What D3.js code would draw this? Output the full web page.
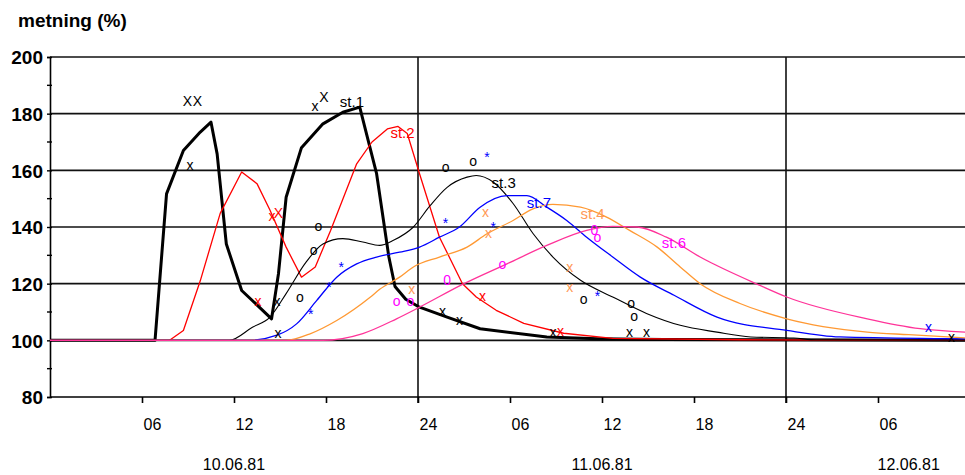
<!DOCTYPE html>
<html>
<head>
<meta charset="utf-8">
<script src="https://cdn.jsdelivr.net/npm/d3@7"></script>
<style>
  html, body { margin: 0; padding: 0; background: #fff; }
  svg { display: block; }
  text { font-family: Arial, "Liberation Sans", sans-serif; }
</style>
</head>
<body>
<svg id="chart" width="965" height="475"></svg>
<script>
// ---------- DATA ----------
const yTicks = [80, 100, 120, 140, 160, 180, 200];
const yMinorTicks = [90, 110, 130, 150, 170, 190];
const xTickHours = [6, 12, 18, 24, 30, 36, 42, 48, 54];
const xTickLabels = ["06", "12", "18", "24", "06", "12", "18", "24", "06"];
const xGridHours = [24, 48];
const dateHours = [12, 36, 56];
const dateLabels = ["10.06.81", "11.06.81", "12.06.81"];

// series: hours since 10.06.81 00:00, saturation (%)
const st1Hours = [0, 6.85, 7.6, 8.7, 9.8, 10.5, 10.9, 11.5, 12.5, 14.45, 14.9, 15.4, 16.4, 17.8, 19.1, 20.2, 21.3, 22.1, 22.5, 23.2, 24.1, 25.9, 28.05, 32.4, 35.7, 40, 60];
const st1Values = [100, 100, 151.7, 167, 173.5, 177, 165.8, 134, 117.6, 107.6, 123.5, 150.5, 168, 176.4, 180.5, 182.3, 158.8, 129.4, 119, 114.5, 111.7, 108.2, 104.1, 101.2, 100.6, 100.3, 100];

const st2Hours = [0, 7.8, 8.7, 9.8, 11.1, 12.5, 13.5, 14.35, 15.4, 16.4, 17.3, 18.3, 20, 21, 22, 22.7, 23.3, 24.1, 25.4, 26.9, 27.8, 29.1, 30.9, 33.5, 36.7, 45, 60];
const st2Values = [100, 100, 103.5, 121, 144.8, 159.4, 155.3, 145.9, 132.9, 122.3, 125.9, 138.8, 162.3, 170, 174.6, 175.5, 173, 158.8, 136.4, 120, 115.3, 110.6, 106, 102.5, 100.7, 100.2, 100];

const st3Hours = [0, 11.7, 13.2, 14.35, 15.4, 16.7, 17.8, 19.1, 20.4, 21.5, 22.4, 23.7, 24.8, 25.9, 27.2, 27.8, 28.9, 30.2, 31.5, 32.8, 34.6, 36.7, 38.9, 41.1, 43.5, 45.7, 48.5, 50, 60];
const st3Values = [100, 100, 104.6, 108.2, 116.5, 127.6, 134, 135.9, 134.7, 133.5, 135.3, 140, 147.6, 154, 157.6, 158.2, 155.9, 148.3, 137.7, 129.4, 121.2, 115.3, 109.5, 105.3, 102.9, 101.2, 100.8, 100.2, 100];

const st7Hours = [0, 13, 14.8, 16.1, 17.4, 18.7, 20, 21.3, 22.8, 24.1, 25.4, 26.7, 28.05, 29.8, 31.1, 32.4, 33.7, 35, 36.7, 38.5, 40.7, 43.5, 48.05, 51.5, 58.3, 60];
const st7Values = [100, 100, 101.8, 105.9, 114.1, 122.3, 127, 129.4, 131.1, 132.9, 136.4, 140, 147, 151.1, 151.1, 147, 142.3, 136.4, 129.4, 122.3, 115.9, 108.2, 103.5, 101.2, 100.6, 100.5];

const st4Hours = [0, 15.4, 17, 18.7, 20.9, 21.5, 22.8, 23.7, 25.4, 27.2, 28.5, 30.2, 31.5, 32.8, 34.6, 36.3, 37.8, 39.6, 41.1, 42.4, 45, 48.05, 53.3, 56, 60];
const st4Values = [100, 100, 102.4, 107, 115.3, 118, 122.3, 125.9, 129.4, 132.9, 137.6, 142.3, 146.4, 148, 147, 143.5, 138.8, 132.9, 125.9, 120, 113, 107.6, 102.9, 102, 100.8];

const st6Hours = [0, 17.8, 20.4, 22.6, 24.1, 27, 29.8, 32.4, 35, 36.7, 38.3, 40.2, 42.4, 46.3, 48.05, 53.3, 56.75, 60];
const st6Values = [100, 100, 102.4, 107.6, 111.7, 120, 127, 133.5, 138.8, 140.2, 140, 136.4, 129.4, 119.4, 115.3, 107.6, 104.1, 102.8];

const seriesNames = ["st.1", "st.2", "st.3", "st.7", "st.4", "st.6"];
const seriesHours = [st1Hours, st2Hours, st3Hours, st7Hours, st4Hours, st6Hours];
const seriesValues = [st1Values, st2Values, st3Values, st7Values, st4Values, st6Values];
const seriesLineColors = ["#000000", "#ff0000", "#000000", "#0000ff", "#ff9933", "#ff3399"];
const seriesTextColors = ["#000000", "#ff0000", "#000000", "#0000ff", "#ff9955", "#ff00ff"];
const seriesWidths = [3, 1.3, 1.1, 1.3, 1.3, 1.3];
const seriesSmooth = [false, false, true, true, true, true];
// label anchor (hour, value at text baseline)
const labelHours = [18.9, 22.2, 28.8, 31.1, 34.6, 39.9];
const labelValues = [182.4, 171.5, 153.6, 146.6, 143.0, 132.5];

// observation markers: hour, value, glyph, series index
const markHours  = [8.97, 9.62, 9.13, 17.28, 17.87, 14.8, 14.87, 25.6, 26.7, 32.8, 37.8, 38.9, 58.8,
                    13.57, 14.48, 14.9, 28.2, 33.3,
                    28.4, 28.6, 23.6, 33.9, 33.9,
                    17.5, 17.2, 16.3, 25.8, 27.6, 34.8, 37.9, 38.1,
                    28.5, 25.8, 28.9, 35.7, 19.0, 18.2, 17.0, 57.3,
                    22.6, 23.5, 25.9, 29.5, 35.5, 35.7];
const markValues = [184.3, 184.3, 161.4, 182.5, 186, 113.4, 102.1, 109.9, 107, 102.5, 102.5, 102.5, 100.7,
                    113.4, 143.4, 144.8, 115.2, 102.8,
                    145.1, 137.7, 117.6, 125.4, 118.3,
                    139.9, 131.7, 114.8, 160.7, 162.8, 114.1, 112.7, 108.1,
                    166, 142.7, 141.3, 116.9, 127.2, 120.1, 110.6, 104.2,
                    113.4, 113.4, 121.2, 126.5, 138.8, 136];
const markGlyphs = ["X", "X", "x", "x", "X", "x", "x", "x", "x", "x", "x", "x", "x",
                    "x", "x", "X", "x", "x",
                    "x", "x", "x", "x", "x",
                    "o", "o", "o", "o", "o", "o", "o", "o",
                    "*", "*", "*", "*", "*", "*", "*", "x",
                    "o", "o", "0", "o", "0", "o"];
const markSeries = [0, 0, 0, 0, 0, 0, 0, 0, 0, 0, 0, 0, 0,
                    1, 1, 1, 1, 1,
                    4, 4, 4, 4, 4,
                    2, 2, 2, 2, 2, 2, 2, 2,
                    3, 3, 3, 3, 3, 3, 3, 3,
                    5, 5, 5, 5, 5, 5];

// ---------- DRAW ----------
const svg = d3.select("#chart");
const x = d3.scaleLinear().domain([0, 60]).range([50, 970]);
const y = d3.scaleLinear().domain([80, 200]).range([397, 57]);

// title
svg.append("text").attr("x", 18).attr("y", 27)
  .attr("font-size", 19).attr("font-weight", "bold").text("metning (%)");

// horizontal gridlines
svg.append("g").selectAll("line").data(yTicks.filter(d => d > 80)).join("line")
  .attr("x1", x(0)).attr("x2", 965).attr("y1", d => y(d)).attr("y2", d => y(d))
  .attr("stroke", "#111").attr("stroke-width", 1.6);

// vertical gridlines
svg.append("g").selectAll("line").data(xGridHours).join("line")
  .attr("x1", d => x(d)).attr("x2", d => x(d)).attr("y1", y(200)).attr("y2", y(80) + 6)
  .attr("stroke", "#111").attr("stroke-width", 1.6);

// y axis
const yAxis = d3.axisLeft(y).tickValues(yTicks).tickSize(3).tickFormat(d3.format("d"));
const gy = svg.append("g").attr("transform", `translate(${x(0)},0)`).call(yAxis);
gy.select(".domain").attr("stroke", "#000").attr("stroke-width", 1.6);
gy.selectAll(".tick line").attr("stroke", "#000").attr("stroke-width", 1.4)
  .attr("x1", 2);
gy.selectAll(".tick text").attr("font-size", 19).attr("font-weight", "bold")
  .attr("font-family", "Arial, 'Liberation Sans', sans-serif").attr("fill", "#000")
  .attr("x", -7).attr("dy", "0.36em");
// minor y ticks
svg.append("g").selectAll("line").data(yMinorTicks).join("line")
  .attr("x1", x(0) - 3).attr("x2", x(0) + 2).attr("y1", d => y(d)).attr("y2", d => y(d))
  .attr("stroke", "#000").attr("stroke-width", 1.4);

// x axis
const xAxis = d3.axisBottom(x).tickValues(xTickHours).tickSize(6).tickFormat((d, i) => xTickLabels[i]);
const gx = svg.append("g").attr("transform", `translate(0,${y(80)})`).call(xAxis);
gx.select(".domain").remove();
gx.selectAll(".tick line").attr("stroke", "#000").attr("stroke-width", 1.6);
gx.selectAll(".tick text").attr("font-size", 16)
  .attr("font-family", "Arial, 'Liberation Sans', sans-serif").attr("fill", "#000")
  .attr("dx", 10).attr("y", 33).attr("dy", 0);
svg.append("line").attr("x1", x(0)).attr("x2", 965).attr("y1", y(80)).attr("y2", y(80))
  .attr("stroke", "#000").attr("stroke-width", 1.6);

// date labels
svg.append("g").selectAll("text").data(dateHours).join("text")
  .attr("x", d => x(d)).attr("y", 470).attr("text-anchor", "middle")
  .attr("font-size", 16).text((d, i) => dateLabels[i]);

// series lines
const seriesData = seriesNames.map((name, i) => ({
  name, color: seriesLineColors[i], width: seriesWidths[i], smooth: seriesSmooth[i],
  points: seriesHours[i].map((h, j) => [h, seriesValues[i][j]])
}));
const gLines = svg.append("g");
seriesData.forEach(s => {
  const line = d3.line().x(d => x(d[0])).y(d => y(d[1]))
    .curve(s.smooth ? d3.curveMonotoneX : d3.curveLinear);
  gLines.append("path").datum(s.points).attr("d", line)
    .attr("fill", "none").attr("stroke", s.color).attr("stroke-width", s.width)
    .attr("stroke-linejoin", "round");
});

// markers
const glyphDy = { "x": 4, "X": 5, "o": 4, "0": 5, "*": 9 };
const marks = markHours.map((h, i) => ({ h, v: markValues[i], g: markGlyphs[i], s: markSeries[i] }));
svg.append("g").selectAll("text").data(marks).join("text")
  .attr("x", d => x(d.h)).attr("y", d => y(d.v) + glyphDy[d.g])
  .attr("text-anchor", "middle").attr("font-size", 14)
  .attr("fill", d => d.s === 3 && d.g === "x" ? "#0000ff" : seriesTextColors[d.s])
  .text(d => d.g);

// series labels
svg.append("g").selectAll("text").data(seriesNames).join("text")
  .attr("x", (d, i) => x(labelHours[i])).attr("y", (d, i) => y(labelValues[i]))
  .attr("font-size", 15).attr("fill", (d, i) => seriesTextColors[i])
  .text(d => d);
</script>
</body>
</html>
